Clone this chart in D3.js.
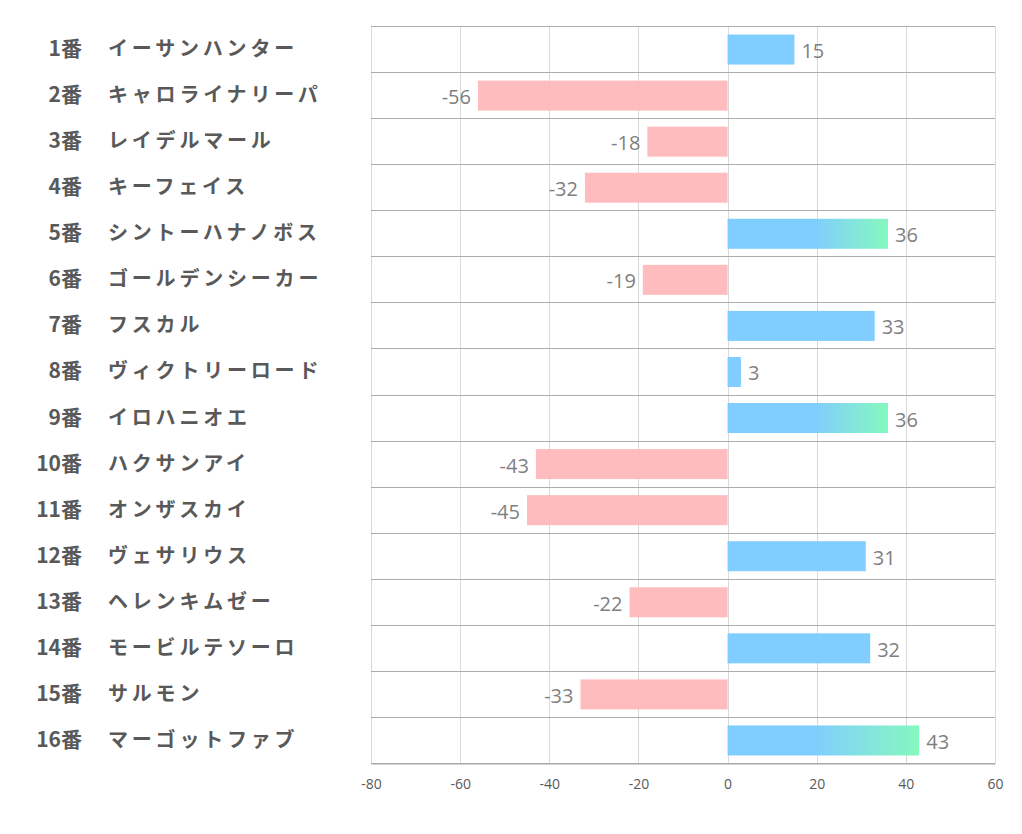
<!DOCTYPE html>
<html><head><meta charset="utf-8">
<script src="https://cdn.jsdelivr.net/npm/d3@7"></script>
<style>body{margin:0;background:#fff;}svg{display:block;}</style>
</head><body>
<script>
const numbers = ["1番","2番","3番","4番","5番","6番","7番","8番","9番","10番","11番","12番","13番","14番","15番","16番"];
const names = ["イーサンハンター","キャロライナリーパ","レイデルマール","キーフェイス","シントーハナノボス","ゴールデンシーカー","フスカル","ヴィクトリーロード","イロハニオエ","ハクサンアイ","オンザスカイ","ヴェサリウス","ヘレンキムゼー","モービルテソーロ","サルモン","マーゴットファブ"];
const values = [15,-56,-18,-32,36,-19,33,3,36,-43,-45,31,-22,32,-33,43];
const ticks = [-80,-60,-40,-20,0,20,40,60];
const highlightMin = 35;

const W=1022,H=834;
const svg=d3.select("body").append("svg").attr("width",W).attr("height",H);
const x=d3.scaleLinear().domain([-80,60]).range([371,995]);
const y=d3.scaleBand().domain(d3.range(values.length)).range([26,763]);
const defs=svg.append("defs");

// vertical grid
svg.append("g").selectAll("line").data(ticks).join("line")
  .attr("x1",d=>Math.round(x(d))+0.5).attr("x2",d=>Math.round(x(d))+0.5).attr("y1",26).attr("y2",763)
  .attr("stroke","#d9d9d9").attr("stroke-width",1);
// horizontal row lines
svg.append("g").selectAll("line").data(d3.range(values.length+1)).join("line")
  .attr("x1",371).attr("x2",995)
  .attr("y1",i=>Math.round(26+i*y.step())+0.5).attr("y2",i=>Math.round(26+i*y.step())+0.5)
  .attr("stroke","#ababab").attr("stroke-width",1);

// gradients
values.forEach((v,i)=>{
  if(v>=highlightMin){
    const g=defs.append("linearGradient").attr("id","g"+i).attr("gradientUnits","userSpaceOnUse")
      .attr("x1",x(20)-5).attr("x2",x(v)).attr("y1",0).attr("y2",0);
    g.append("stop").attr("offset",0).attr("stop-color","#79caff");
    g.append("stop").attr("offset",1).attr("stop-color","#7ff8bc");
  }
});

const bh=30;
svg.append("g").selectAll("rect").data(values).join("rect")
  .attr("x",d=>x(Math.min(0,d))).attr("width",d=>Math.abs(x(d)-x(0)))
  .attr("y",(d,i)=>y(i)+y.bandwidth()/2-bh/2+0.5).attr("height",bh)
  .attr("fill",(d,i)=>d>=highlightMin?`url(#g${i})`:(d>=0?"#79caff":"#ffb8ba"))
  .attr("opacity",0.95);

// value labels
svg.append("g").selectAll("text").data(values).join("text")
  .attr("x",d=>d>=0?x(d)+7:x(d)-7)
  .attr("y",(d,i)=>y(i)+y.bandwidth()/2+9)
  .attr("text-anchor",d=>d>=0?"start":"end")
  .attr("font-family","'Open Sans','Noto Sans',sans-serif").attr("font-size",20)
  .attr("fill","#7f7f7f").text(d=>d);

// category labels
const lab=svg.append("g").attr("font-family","'Noto Sans CJK JP',sans-serif").attr("font-weight","bold")
  .attr("fill","#595959");
lab.selectAll(".n").data(numbers).join("text").attr("class","n")
  .attr("font-size",21)
  .attr("x",82).attr("y",(d,i)=>y(i)+y.bandwidth()/2+7).attr("text-anchor","end").text(d=>d);
lab.selectAll(".m").data(names).join("text").attr("class","m")
  .attr("font-size",20).attr("letter-spacing","3.8px")
  .attr("x",108).attr("y",(d,i)=>y(i)+y.bandwidth()/2+7).text(d=>d);

// x axis
const ax=svg.append("g").attr("transform","translate(0,763.5)")
  .call(d3.axisBottom(x).tickValues(ticks).tickSize(0).tickPadding(16).tickFormat(d=>String(d)));
ax.select(".domain").attr("stroke","#a6a6a6");
ax.selectAll("text").attr("font-family","'Open Sans','Noto Sans',sans-serif").attr("font-size",14).attr("fill","#595959");
</script>
</body></html>
